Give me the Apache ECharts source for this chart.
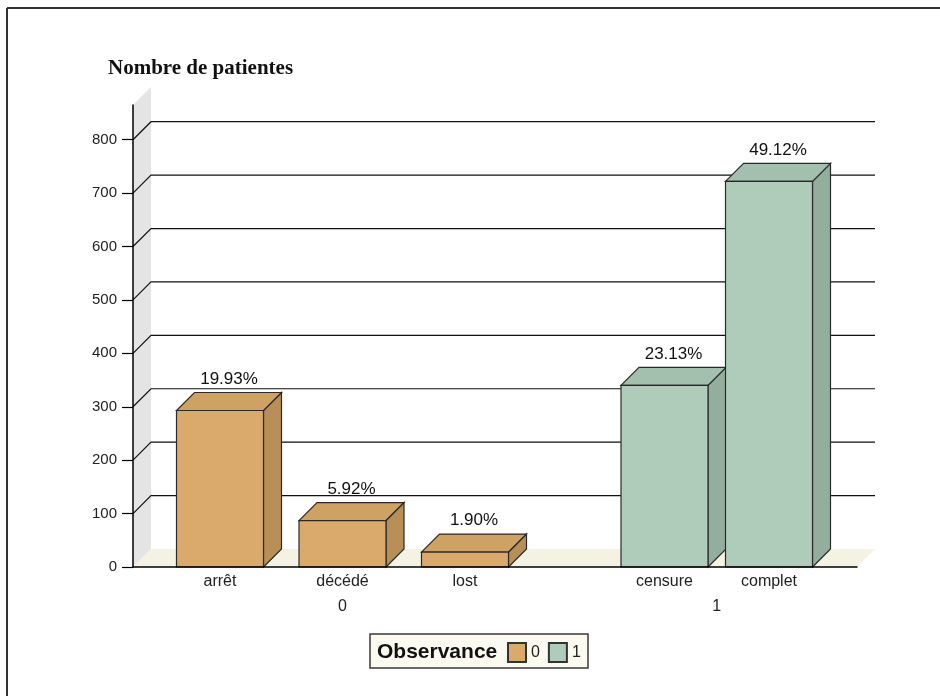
<!DOCTYPE html>
<html>
<head>
<meta charset="utf-8">
<script src="https://cdn.jsdelivr.net/npm/echarts@6/dist/echarts.min.js"></script>
<style>html,body{margin:0;padding:0;background:#fff}#c{width:940px;height:696px}</style>
</head>
<body>
<div id="c"></div>
<script>
// ---- data ----
var categories = ['arrêt', 'décédé', 'lost', 'censure', 'complet'];
var groupOf = ['0', '0', '0', '1', '1'];
var groupNames = ['0', '1'];
var counts = [293, 87, 28, 340, 722];
var yTicks = [0, 100, 200, 300, 400, 500, 600, 700, 800];
var titleText = 'Nombre de patientes';
var legendTitle = 'Observance';

// ---- layout / style ----
var X_SPAN = 724;          // x axis units across the floor
var BAR_W = 87;            // bar width in x units
var GROUP_LAYOUT = { '0': { first: 87, step: 122.5 }, '1': { first: 531.5, step: 104.5 } };
var WALL_TOP = 865;
var D = 18;                // depth offset in px
var FONT = 'Liberation Sans, Arial, sans-serif';
var COLORS = {
  '0': { front: '#d9aa6c', top: '#cda263', side: '#b98f58' },
  '1': { front: '#afcbb9', top: '#a3bfad', side: '#93ae9c' }
};

var total = counts.reduce(function (a, b) { return a + b; }, 0);

// centers of bars
var centers = [];
var groupCount = {};
for (var i = 0; i < categories.length; i++) {
  var g = groupOf[i];
  var k = groupCount[g] || 0;
  centers.push(GROUP_LAYOUT[g].first + k * GROUP_LAYOUT[g].step);
  groupCount[g] = k + 1;
}
var groupCenters = groupNames.map(function (g) {
  var s = 0, n = 0;
  for (var i = 0; i < categories.length; i++) if (groupOf[i] === g) { s += centers[i]; n++; }
  return s / n;
});
function nameAt(list, vals, v) {
  for (var i = 0; i < vals.length; i++) if (Math.abs(vals[i] - v) < 0.01) return list[i];
  return '';
}

function renderBackground(params, api) {
  var f0 = api.coord([0, 0]);
  var f1 = api.coord([X_SPAN, 0]);
  var wt = api.coord([0, WALL_TOP]);
  var children = [];
  children.push({
    type: 'polygon',
    shape: { points: [[f0[0], f0[1]], [wt[0], wt[1]], [wt[0] + D, wt[1] - D], [f0[0] + D, f0[1] - D]] },
    style: { fill: '#e4e4e4' }
  });
  children.push({
    type: 'polygon',
    shape: { points: [[f0[0], f0[1]], [f1[0], f1[1]], [f1[0] + D, f1[1] - D], [f0[0] + D, f0[1] - D]] },
    style: { fill: '#f4f2e2' }
  });
  for (var i = 1; i < yTicks.length; i++) {
    var a = api.coord([0, yTicks[i]]);
    var b = api.coord([X_SPAN, yTicks[i]]);
    children.push({
      type: 'polyline',
      shape: { points: [[a[0], a[1]], [a[0] + D, a[1] - D], [b[0] + D, b[1] - D]] },
      style: { stroke: '#111', lineWidth: 1.2, fill: null }
    });
  }
  return { type: 'group', children: children };
}

function renderBar(params, api) {
  var xc = api.value(0), v = api.value(1), g = groupOf[api.value(2)];
  var c = COLORS[g];
  var p0 = api.coord([xc - BAR_W / 2, 0]);
  var p1 = api.coord([xc + BAR_W / 2, v]);
  var x0 = p0[0], yb = p0[1], x1 = p1[0], yt = p1[1];
  var stroke = { stroke: '#2a2a2a', lineWidth: 1.2 };
  return {
    type: 'group',
    children: [
      { type: 'polygon', shape: { points: [[x1, yb], [x1 + D, yb - D], [x1 + D, yt - D], [x1, yt]] },
        style: Object.assign({ fill: c.side }, stroke) },
      { type: 'polygon', shape: { points: [[x0, yt], [x1, yt], [x1 + D, yt - D], [x0 + D, yt - D]] },
        style: Object.assign({ fill: c.top }, stroke) },
      { type: 'rect', shape: { x: x0, y: yt, width: x1 - x0, height: yb - yt },
        style: Object.assign({ fill: c.front }, stroke) },
      { type: 'text', x: (x0 + x1) / 2 + D / 2, y: yt - D - 5,
        style: { text: (v / total * 100).toFixed(2) + '%', fill: '#111', font: '17px ' + FONT,
          textAlign: 'center', textVerticalAlign: 'bottom' } }
    ]
  };
}

var barSeries = groupNames.map(function (g) {
  var data = [];
  for (var i = 0; i < categories.length; i++) if (groupOf[i] === g) data.push([centers[i], counts[i], i]);
  return {
    type: 'custom', name: g, xAxisIndex: 0, yAxisIndex: 0, z: 3,
    itemStyle: { color: COLORS[g].front, borderColor: '#333', borderWidth: 1 },
    renderItem: renderBar, data: data
  };
});

var chart = echarts.init(document.getElementById('c'), null, { renderer: 'canvas' });
chart.setOption({
  animation: false,
  backgroundColor: '#ffffff',
  title: {
    text: titleText, left: 103, top: 53,
    textStyle: { fontFamily: 'Liberation Serif, Times New Roman, serif', fontWeight: 'bold', fontSize: 21, color: '#111' }
  },
  grid: { left: 133, right: 83, top: 105, bottom: 129, containLabel: false },
  xAxis: [{
    type: 'value', min: 0, max: X_SPAN, position: 'bottom', z: 4,
    axisLine: { show: true, onZero: false, lineStyle: { color: '#000', width: 1.5 } },
    axisTick: { show: false }, splitLine: { show: false },
    axisLabel: { customValues: centers, margin: 7, fontSize: 16, color: '#222', fontFamily: FONT,
      formatter: function (v) { return nameAt(categories, centers, v); } }
  }, {
    type: 'value', min: 0, max: X_SPAN, position: 'bottom', offset: 25, gridIndex: 0,
    axisLine: { show: false }, axisTick: { show: false }, splitLine: { show: false },
    axisLabel: { customValues: groupCenters, margin: 7, fontSize: 16, color: '#222', fontFamily: FONT,
      formatter: function (v) { return nameAt(groupNames, groupCenters, v); } }
  }],
  yAxis: {
    type: 'value', min: 0, max: WALL_TOP, interval: 100, z: 4,
    axisLine: { show: true, lineStyle: { color: '#000', width: 1.5 } },
    axisTick: { show: true, length: 11, customValues: yTicks, lineStyle: { color: '#000', width: 1.2 } },
    axisLabel: { customValues: yTicks, margin: 16, fontSize: 15, color: '#222', fontFamily: FONT },
    splitLine: { show: false }
  },
  legend: {
    data: groupNames, left: 507, top: 642, padding: 0, itemGap: 8,
    itemWidth: 18, itemHeight: 19, icon: 'rect',
    textStyle: { fontSize: 16, color: '#222', fontFamily: FONT }
  },
  graphic: [
    { type: 'line', shape: { x1: 7, y1: 8, x2: 940, y2: 8 }, style: { stroke: '#333', lineWidth: 2 }, z: 0 },
    { type: 'line', shape: { x1: 7, y1: 8, x2: 7, y2: 696 }, style: { stroke: '#333', lineWidth: 2 }, z: 0 },
    { type: 'rect', shape: { x: 370, y: 634, width: 218, height: 34 },
      style: { fill: '#fafaf0', stroke: '#3a3a3a', lineWidth: 1.5 }, z: 0 },
    { type: 'text', x: 377, y: 652, z: 1,
      style: { text: legendTitle, font: 'bold 21px ' + FONT, fill: '#111', textVerticalAlign: 'middle' } }
  ],
  series: [{
    type: 'custom', name: 'bg', z: 1, silent: true,
    renderItem: renderBackground, data: [[0, 0]]
  }].concat(barSeries)
});
</script>
</body>
</html>
